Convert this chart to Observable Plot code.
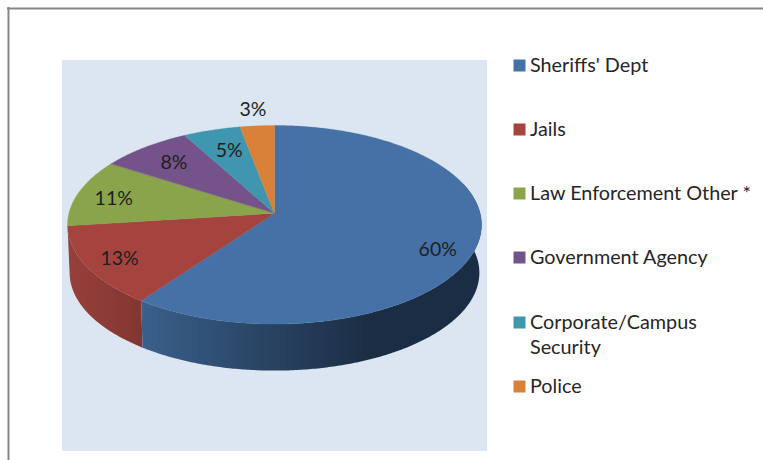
<!DOCTYPE html>
<html>
<head>
<meta charset="utf-8">
<style>html,body{margin:0;padding:0;background:#fff}svg{display:block}</style>
<script src="https://cdn.jsdelivr.net/npm/d3@7"></script>
<script src="https://cdn.jsdelivr.net/npm/@observablehq/plot@0.6"></script>
</head>
<body>
<script>
const categories = ["Sheriffs' Dept", "Jails", "Law Enforcement Other *", "Government Agency", "Corporate/Campus Security", "Police"];
const values = [60, 13, 11, 8, 5, 3];
const legendLabels = ["Sheriffs' Dept", "Jails", "Law Enforcement Other *", "Government Agency", "Corporate/Campus\nSecurity", "Police"];
const colors = ["#4571a6", "#a5433f", "#89a44b", "#735389", "#4096ae", "#d98138"];

// layout, kept apart from the data
const W = 763, H = 460;
const font = "Lato, 'Open Sans', sans-serif";
const legendRows = [65, 129, 193, 257, 322, 386];
const labelRadii = [0.837, 0.83, 0.805, 0.765, 0.743, 1.24];
const labelDx = [-6, -1, -3, 0, 2, -1];
const labelDy = [10, 1, 2, 0, 0, 2];
const top_ = {cx: 274.5, cy: 213.3, a: 98, b: 205.6};
const bot_ = {cx: 274.5, cy: 261.5, a: 96.5, b: 203.5};
const persp = 0.1156;

// perspective view of a flat disc; angle runs clockwise from the back of the pie
const project = (f, t, r = 1) => {
  const X = r * Math.sin(t), Y = r * Math.cos(t), w = 1 + persp * Y;
  return [f.cx + f.b * X / w, f.cy - f.a * Y / w];
};
const total = d3.sum(values);
const cum = d3.cumsum(values);
const slices = categories.map((name, i) => ({
  name, value: values[i],
  t0: (cum[i] - values[i]) / total * 2 * Math.PI,
  t1: cum[i] / total * 2 * Math.PI
}));
const sweep = (t0, t1) => {
  const n = Math.max(2, Math.ceil((t1 - t0) / 0.01));
  return d3.range(n + 1).map(k => t0 + (t1 - t0) * k / n);
};
const face = slices.flatMap(s => sweep(s.t0, s.t1).map(t => {
  const [x, y] = project(top_, t);
  return {name: s.name, x, y};
}));
const wall = (t0, t1) => sweep(t0, t1).map(t => {
  const [x1, y1] = project(top_, t), [x2, y2] = project(bot_, t);
  return {x1, y1, x2, y2};
});
const labels = slices.map((s, i) => {
  const [x, y] = project(top_, (s.t0 + s.t1) / 2, labelRadii[i]);
  return {text: d3.format(".0f")(s.value) + "%", x: x + labelDx[i], y: y + labelDy[i]};
});
const legend = categories.map((name, i) => ({name, label: legendLabels[i], y: legendRows[i]}));

const defs = () => d3.create("svg:defs").html(`
  <linearGradient id="wallBlue" gradientUnits="userSpaceOnUse" x1="141" x2="370" y1="0" y2="0">
    <stop offset="0" stop-color="#3a608b"/>
    <stop offset="0.5" stop-color="#2a4666"/>
    <stop offset="1" stop-color="#1b2d44"/>
  </linearGradient>
  <linearGradient id="wallRed" gradientUnits="userSpaceOnUse" x1="67" x2="143" y1="0" y2="0">
    <stop offset="0" stop-color="#98403b"/>
    <stop offset="1" stop-color="#823631"/>
  </linearGradient>`).node();

const chart = Plot.plot({
  width: W, height: H,
  margin: 0,
  style: {background: "#fff", fontFamily: font},
  x: {axis: null, domain: [0, W], range: [0, W]},
  y: {axis: null, domain: [0, H], range: [0, H]},
  color: {domain: categories, range: colors},
  marks: [
    defs,
    // frame and panel
    Plot.rect([{}], {x1: () => 62, x2: () => 487, y1: () => 60, y2: () => 451, fill: "#dce6f2"}),
    Plot.ruleX([8], {y1: () => 7, y2: () => H, stroke: "#868686", strokeWidth: 2}),
    Plot.ruleY([8], {x1: () => 7, x2: () => W, stroke: "#868686", strokeWidth: 2}),
    // walls
    Plot.area(wall(slices[1].t0, slices[1].t1), {x1: "x1", y1: "y1", x2: "x2", y2: "y2", fill: "url(#wallRed)"}),
    Plot.area(wall(Math.PI * 0.4, slices[0].t1), {x1: "x1", y1: "y1", x2: "x2", y2: "y2", fill: "url(#wallBlue)"}),
    // top face
    Plot.area(face, {x1: () => top_.cx, y1: () => top_.cy, x2: "x", y2: "y", z: "name", fill: "name", stroke: "name", strokeWidth: 0.3}),
    // data labels
    Plot.text(labels, {x: "x", y: "y", text: "text", fontSize: 19.5, fill: "#1e1e1e", fontFamily: font}),
    // legend
    Plot.dot(legend, {x: () => 519, y: "y", symbol: "square", r: 6.77, fill: "name"}),
    Plot.text(legend, {x: () => 529.5, y: "y", text: "label", textAnchor: "start", lineAnchor: "top", dy: -11.8, lineHeight: 1.28, fontSize: 19.8, fill: "#262626", fontFamily: font})
  ]
});
document.body.appendChild(chart);
</script>
</body>
</html>
